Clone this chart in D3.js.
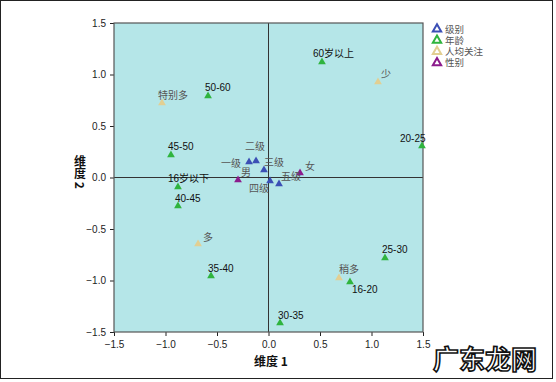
<!DOCTYPE html>
<html><head><meta charset="utf-8">
<script src="https://cdn.jsdelivr.net/npm/d3@7"></script>
<style>body{margin:0;background:#fff}svg{display:block}</style>
</head><body>
<script>
const groups = ["级别", "年龄", "人均关注", "性别"];
const groupColors = ["#3b4fb5", "#2fb43e", "#e2cf92", "#8c1b8c"];
const names = ["特别多","50-60","60岁以上","少","20-25","45-50","二级","一级","三级","男","四级","五级","女","16岁以下","40-45","多","35-40","30-35","25-30","稍多","16-20"];
const groupOf = [2,1,1,2,1,1,0,0,0,3,0,0,3,1,1,2,1,1,1,2,1];
const dim1 = [-1.034,-0.587,0.519,1.063,1.490,-0.947,-0.121,-0.189,-0.044,-0.296,0.015,0.102,0.306,-0.879,-0.879,-0.684,-0.558,0.112,1.131,0.684,0.791];
const dim2 = [0.723,0.791,1.121,0.927,0.306,0.218,0.160,0.150,0.073,-0.024,-0.034,-0.063,0.044,-0.092,-0.277,-0.646,-0.956,-1.413,-0.782,-0.976,-1.015];
const tickValues = [-1.5,-1.0,-0.5,0.0,0.5,1.0,1.5];
// label offsets (pixels) relative to point
const labelOffset = {"特别多":[-4,-4],"50-60":[-3,-5],"60岁以上":[-9,-5],"少":[3,-4],"20-25":[-22,-4],"45-50":[-3,-5],"二级":[-11,-11],"一级":[-28,5],"三级":[0,-4],"男":[3,-4],"四级":[-21,11],"五级":[2,-4],"女":[5,-3],"16岁以下":[-10,-5],"40-45":[-3,-4],"多":[5,-3],"35-40":[-3,-4],"30-35":[-2,-4],"25-30":[-3,-5],"稍多":[0,-5],"16-20":[2,11]};

const W = 556, H = 382;
const svg = d3.select("body").append("svg").attr("width", W).attr("height", H);
svg.append("rect").attr("x",0.5).attr("y",0.5).attr("width",552).attr("height",378)
  .attr("fill","#fff").attr("stroke","#222").attr("stroke-width",1);

const x = d3.scaleLinear().domain([-1.5,1.5]).range([114,423]);
const y = d3.scaleLinear().domain([-1.5,1.5]).range([332,23]);

svg.append("rect").attr("x",114).attr("y",23).attr("width",309).attr("height",309)
  .attr("fill","#b5e6e8");

const fmt = d3.format(".1f");
const xa = svg.append("g").attr("transform","translate(0,332)")
  .call(d3.axisBottom(x).tickValues(tickValues).tickFormat(fmt).tickSize(4).tickSizeOuter(0));
const ya = svg.append("g").attr("transform","translate(114,0)")
  .call(d3.axisLeft(y).tickValues(tickValues).tickFormat(fmt).tickSize(4).tickSizeOuter(0));
[xa,ya].forEach(a=>{
  a.select(".domain").remove();
  a.selectAll("line").attr("stroke","#222");
  a.selectAll("text").attr("font-family","Liberation Sans, Arial, sans-serif").attr("font-size",10).attr("fill","#222");
});
xa.selectAll("text").attr("dy","0.9em");
ya.selectAll("text").attr("dx","-1");

// reference lines
svg.append("line").attr("x1",x(0)).attr("x2",x(0)).attr("y1",23).attr("y2",332).attr("stroke","#333");
svg.append("line").attr("x1",114).attr("x2",423).attr("y1",y(0)).attr("y2",y(0)).attr("stroke","#333");
// frame
svg.append("rect").attr("x",114).attr("y",23).attr("width",309).attr("height",309)
  .attr("fill","none").attr("stroke","#555").attr("stroke-width",1.2);

const tri = d3.symbol().type(d3.symbolTriangle).size(26);
const pts = names.map((n,i)=>({n, g:groupOf[i], x:dim1[i], y:dim2[i]}));
svg.append("g").selectAll("path").data(pts).join("path")
  .attr("d", tri)
  .attr("transform", d=>`translate(${x(d.x)},${y(d.y)})`)
  .attr("fill", d=>groupColors[d.g]);

const isNum = s => /^[0-9]/.test(s);
svg.append("g").selectAll("text").data(pts).join("text")
  .attr("x", d=>x(d.x)+labelOffset[d.n][0])
  .attr("y", d=>y(d.y)+labelOffset[d.n][1])
  .attr("font-size", 10)
  .attr("font-family", "Liberation Sans, Noto Sans CJK SC, sans-serif")
  .attr("fill", d=>isNum(d.n) ? "#111" : "#555")
  .text(d=>d.n);

// legend
const lg = svg.append("g");
groups.forEach((g,i)=>{
  const yy = 29 + i*11.3;
  lg.append("path").attr("d", d3.symbol().type(d3.symbolTriangle).size(30)())
    .attr("transform",`translate(437,${yy})`).attr("fill","#fff")
    .attr("stroke",groupColors[i]).attr("stroke-width",2);
  lg.append("text").attr("x",445).attr("y",yy+3.5).attr("font-size",9.5)
    .attr("font-family","Liberation Sans, Noto Sans CJK SC, sans-serif").attr("fill","#555").text(g);
});

// axis titles
svg.append("text").attr("x",271).attr("y",366).attr("text-anchor","middle")
  .attr("font-size",12).attr("font-weight","bold").attr("fill","#111")
  .attr("font-family","Noto Sans CJK SC, sans-serif").text("维度 1");
svg.append("text").attr("x",80).attr("y",172).attr("text-anchor","middle")
  .attr("font-size",12).attr("font-weight","bold").attr("fill","#111")
  .attr("font-family","Noto Sans CJK SC, sans-serif")
  .style("writing-mode","vertical-rl").text("维度 2");

// watermark
svg.append("text").attr("x",433).attr("y",369).attr("font-size",26).attr("font-weight","bold")
  .attr("font-family","Noto Sans CJK SC, sans-serif").attr("fill","#fff")
  .attr("stroke","#111").attr("stroke-width",1.6).text("广东龙网");
</script>
</body></html>
